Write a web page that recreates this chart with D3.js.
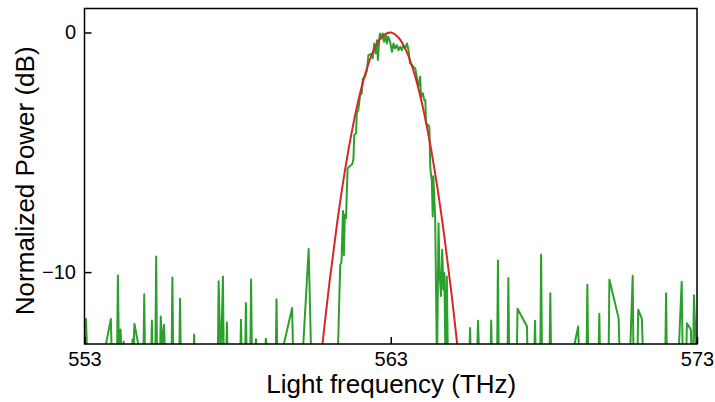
<!DOCTYPE html>
<html>
<head>
<meta charset="utf-8">
<script src="https://cdn.jsdelivr.net/npm/d3@7"></script>
<style>
  body { margin: 0; background: #fff; }
  text { font-family: "Liberation Sans", Arial, sans-serif; fill: #000; }
</style>
</head>
<body>
<div id="chart"></div>
<script>
// measured spectrum (THz, dB) - values under -13 dB sit below the frame
const specFreq = [
  553.00, 553.05, 553.10, 553.55, 553.86, 553.90, 554.06, 554.09, 554.13, 554.18, 554.22, 554.28, 554.31,
  554.54, 554.57, 554.60, 554.63, 554.90, 554.92, 554.95, 554.98,
  555.17, 555.20, 555.23, 555.31, 555.34, 555.37, 555.46, 555.49, 555.54, 555.60, 555.64,
  555.84, 555.87, 555.90, 556.09, 556.12, 556.15, 556.55, 556.58, 556.61,
  557.35, 557.38, 557.45, 557.52, 557.55, 557.62, 557.65, 557.68,
  558.08, 558.11, 558.14, 558.24, 558.27, 558.30, 558.41, 558.44, 558.47, 558.57, 558.60, 558.63,
  558.89, 558.92, 559.02, 559.24, 559.27, 559.30, 559.33, 559.78, 559.82, 560.10, 560.32, 560.41,
  561.26, 561.35, 561.39, 561.44, 561.47, 561.50, 561.54, 561.59, 561.64, 561.74, 561.78, 561.81,
  561.87, 561.89, 561.94, 562.00, 562.05, 562.09, 562.16, 562.22, 562.27, 562.38, 562.41, 562.46,
  562.51, 562.55, 562.58, 562.63, 562.65, 562.71, 562.74, 562.78, 562.84, 562.87, 562.92, 562.98,
  563.04, 563.09, 563.14, 563.20, 563.25, 563.31, 563.36, 563.41, 563.47, 563.53, 563.58, 563.63,
  563.69, 563.74, 563.80, 563.85, 563.90, 563.96, 563.99, 564.05, 564.09, 564.13, 564.15, 564.23,
  564.26, 564.29, 564.32, 564.34, 564.37, 564.39, 564.42, 564.45, 564.51, 564.56, 564.59, 564.64,
  564.68, 564.72, 564.75, 564.79, 564.83, 564.87,
  565.56, 565.59, 565.62, 565.81, 565.85, 565.90, 566.25, 566.28, 566.31, 566.47, 566.50, 566.53,
  566.81, 566.84, 566.87, 567.11, 567.14, 567.45, 567.47, 567.68, 567.71, 567.74, 567.88, 567.91, 567.94,
  568.18, 568.21, 568.24, 568.84, 569.12, 569.16, 569.39, 569.42, 569.45, 569.78, 569.81, 569.84,
  570.11, 570.14, 570.44, 570.49, 570.80, 570.90, 570.93, 571.05, 571.08, 571.20, 571.25,
  571.96, 571.99, 572.02, 572.38, 572.50, 572.54, 572.64, 572.67, 572.80, 572.83, 572.87, 572.90, 572.99, 573.00
];
const specPower = [
  -14, -11.96, -14, -14, -11.96, -14, -14, -10.14, -14, -12.4, -14, -12.9, -14,
  -14, -12.8, -13.4, -12.15, -14, -14, -10.92, -14,
  -14, -12.02, -14, -14, -9.35, -14, -14, -11.85, -13.0, -12.2, -14,
  -14, -10.22, -14, -14, -11.11, -14, -14, -12.6, -14,
  -14, -10.38, -14, -10.18, -14, -14, -12.1, -14,
  -14, -11.99, -14, -14, -11.29, -14, -14, -10.31, -14, -14, -12.8, -14,
  -14, -12.78, -14, -14, -11.13, -14, -14, -11.5, -14, -14, -9.04, -14,
  -14, -9.7, -9.6, -7.45, -9.3, -7.6, -7.75, -5.67, -5.6, -5.5, -5.3, -4.28,
  -4.2, -3.38, -3.24, -2.61, -2.55, -1.92, -1.85, -1.6, -0.95, -0.88, -1.08, -0.46,
  -0.88, -0.32, -1.15, -0.18, -0.04, -0.25, -0.04, -0.39, -0.11, -0.46, -0.18, -0.39,
  -0.81, -0.46, -0.67, -0.53, -0.74, -0.6, -0.74, -0.53, -0.67, -0.46, -0.74, -1.29,
  -1.36, -1.43, -1.5, -1.85, -2.27, -1.85, -2.68, -2.54, -2.82, -2.82, -3.8, -3.87,
  -3.93, -5.6, -6.0, -6.15, -7.68, -6.0, -6.85, -7.68, -14, -7.96, -9.9, -11.0,
  -9.07, -10.74, -10.04, -14, -10.18, -14,
  -14, -12.33, -14, -14, -12.03, -14, -14, -12.02, -14, -14, -9.52, -14,
  -14, -10.25, -14, -14, -11.53, -12.27, -14, -14, -12.03, -14, -14, -9.27, -14,
  -14, -10.88, -14, -14, -12.27, -14, -14, -10.53, -14, -14, -11.74, -14,
  -14, -10.32, -11.92, -14, -14, -10.15, -14, -14, -11.57, -11.95, -14,
  -14, -10.88, -14, -14, -10.4, -14, -14, -12.13, -12.4, -14, -14, -10.97, -14, -14
];

// fitted curve
const fitFreq = [560.75, 561.0, 561.25, 561.5, 561.75, 562.0, 562.25, 562.5, 562.75, 563.0,
  563.25, 563.5, 563.75, 564.0, 564.25, 564.5, 564.75, 565.0, 565.25];
const fitPower = [-13.24, -10.42, -7.95, -5.80, -4.00, -2.53, -1.39, -0.59, -0.13, 0.0,
  -0.21, -0.75, -1.63, -2.85, -4.40, -6.29, -8.51, -11.07, -13.96];

const xTicks = [553, 563, 573];
const yTicks = [0, -10];

const width = 715, height = 402;
const margin = {left: 84.5, right: 18, top: 8.5, bottom: 58};

let svg = d3.select('#chart').append('svg')
  .attr('width', width)
  .attr('height', height);

let xScale = d3.scaleLinear()
  .domain([553, 573])
  .range([margin.left, width - margin.right]);
let yScale = d3.scaleLinear()
  .domain([-13, 1])
  .range([height - margin.bottom, margin.top]);

svg.append('clipPath').attr('id', 'plot-clip')
  .append('rect')
  .attr('x', margin.left).attr('y', margin.top)
  .attr('width', xScale.range()[1] - margin.left)
  .attr('height', yScale.range()[0] - margin.top);

let spectrum = specFreq.map((f, i) => ({f: f, p: specPower[i]}));
let fit = fitFreq.map((f, i) => ({f: f, p: fitPower[i]}));

let line = d3.line()
  .x(d => xScale(d.f))
  .y(d => yScale(d.p));

let lines = svg.append('g').attr('clip-path', 'url(#plot-clip)');
lines.append('path')
  .datum(spectrum)
  .attr('d', line)
  .attr('fill', 'none')
  .attr('stroke', '#2ca02c')
  .attr('stroke-width', 2)
  .attr('stroke-linejoin', 'round');
lines.append('path')
  .datum(fit)
  .attr('d', line.curve(d3.curveCatmullRom))
  .attr('fill', 'none')
  .attr('stroke', '#d62728')
  .attr('stroke-width', 2);

// axes with inward ticks
let xAxis = svg.append('g')
  .attr('transform', `translate(0,${yScale.range()[0]})`)
  .call(d3.axisBottom(xScale).tickValues(xTicks).tickFormat(d3.format('d'))
    .tickSizeInner(-7).tickSizeOuter(0).tickPadding(8));
let yAxis = svg.append('g')
  .attr('transform', `translate(${margin.left},0)`)
  .call(d3.axisLeft(yScale).tickValues(yTicks).tickFormat(d3.format('d'))
    .tickSizeInner(-7).tickSizeOuter(0).tickPadding(8.5));

svg.selectAll('.domain').remove();
svg.selectAll('.tick line').attr('stroke', '#000').attr('stroke-width', 1.5);
svg.selectAll('.tick text')
  .style('font-size', '20px')
  .style('font-family', '"Liberation Sans", Arial, sans-serif')
  .attr('fill', '#000');

svg.append('rect')
  .attr('x', margin.left).attr('y', margin.top)
  .attr('width', xScale.range()[1] - margin.left)
  .attr('height', yScale.range()[0] - margin.top)
  .attr('fill', 'none')
  .attr('stroke', '#000')
  .attr('stroke-width', 1.5);

svg.append('text')
  .text('Light frequency (THz)')
  .attr('x', 391.3)
  .attr('y', 393.3)
  .attr('text-anchor', 'middle')
  .style('font-size', '26px');

svg.append('text')
  .text('Normalized Power (dB)')
  .attr('transform', 'translate(33.5,180.8) rotate(-90)')
  .attr('text-anchor', 'middle')
  .style('font-size', '26px');
</script>
</body>
</html>
